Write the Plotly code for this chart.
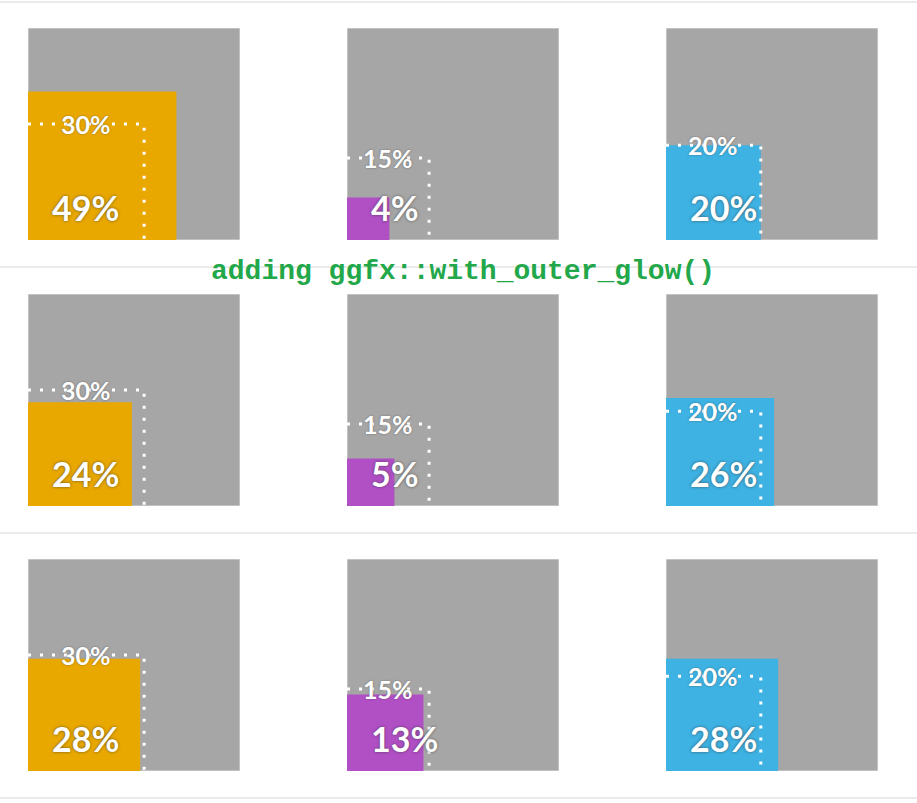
import plotly.graph_objects as go

# ---- data ----
targets = [30, 15, 20]                      # target % per column
row1_values = [49, 4, 20]
row2_values = [24, 5, 26]
row3_values = [28, 13, 28]
rows_values = [row1_values, row2_values, row3_values]
colors = ["#E9A800", "#B14FC5", "#3DB2E3"]
title_text = "adding ggfx::with_outer_glow()"

W, H = 917, 803
col_px = [(28, 240), (347, 559), (666, 878)]
row_px = [(28, 240), (294, 506), (559, 771)]
GREY = "#A6A6A6"
label_font = "Lato"

fig = go.Figure()
layout_axes = {}
annotations = []
k = 0
for r, vals in enumerate(rows_values):
    for c, v in enumerate(vals):
        k += 1
        xa = "x" if k == 1 else f"x{k}"
        ya = "y" if k == 1 else f"y{k}"
        xd = [col_px[c][0] / W, col_px[c][1] / W]
        yd = [1 - row_px[r][1] / H, 1 - row_px[r][0] / H]
        layout_axes["xaxis" if k == 1 else f"xaxis{k}"] = dict(
            domain=xd, range=[0, 1], visible=False, fixedrange=True,
            anchor=ya)
        layout_axes["yaxis" if k == 1 else f"yaxis{k}"] = dict(
            domain=yd, range=[0, 1], visible=False, fixedrange=True,
            anchor=xa)
        # background square
        fig.add_trace(go.Scatter(
            x=[0, 1, 1, 0, 0], y=[0, 0, 1, 1, 0], mode="lines",
            fill="toself", fillcolor=GREY, line=dict(color="#DDDDDD", width=1),
            xaxis=xa, yaxis=ya, hoverinfo="skip", showlegend=False))
        # value square (area proportional to value)
        s = (v / 100) ** 0.5
        fig.add_trace(go.Scatter(
            x=[0, s, s, 0, 0], y=[0, 0, s, s, 0], mode="lines",
            fill="toself", fillcolor=colors[c], line=dict(width=0, color=colors[c]),
            xaxis=xa, yaxis=ya, hoverinfo="skip", showlegend=False))
        # target dotted outline
        t = (targets[c] / 100) ** 0.5
        fig.add_trace(go.Scatter(
            x=[0, t, t], y=[t, t, 0], mode="lines",
            line=dict(color="white", width=3, dash="3px,9px"),
            xaxis=xa, yaxis=ya, hoverinfo="skip", showlegend=False))
        # target label
        annotations.append(dict(
            x=t / 2, y=t, xref=xa, yref=ya, text=f"{targets[c]}%",
            showarrow=False, xanchor="center", yanchor="middle",
            font=dict(family=label_font, size=25, color="white", weight=700,
                      shadow="0px 0px 2px rgba(60,60,60,0.6)")))
        # value label
        annotations.append(dict(
            x=22 / 212, y=33 / 212, xref=xa, yref=ya, text=f"{v}%",
            showarrow=False, xanchor="left", yanchor="middle",
            font=dict(family=label_font, size=34, color="white", weight=700,
                      shadow="0px 0px 3px rgba(50,50,50,0.7)")))

annotations.append(dict(
    x=463 / W, y=1 - 271 / H, xref="paper", yref="paper", text=title_text,
    showarrow=False, xanchor="center", yanchor="middle",
    font=dict(family="Liberation Mono", size=28, color="#22A84A", weight=700)))

shapes = []
for yp in [2, 267, 533, 798]:
    shapes.append(dict(type="line", xref="paper", yref="paper",
                       x0=0, x1=1, y0=1 - yp / H, y1=1 - yp / H,
                       line=dict(color="#EBEBEB", width=2)))

fig.update_layout(
    width=W, height=H, margin=dict(l=0, r=0, t=0, b=0),
    paper_bgcolor="white", plot_bgcolor="rgba(0,0,0,0)",
    annotations=annotations, shapes=shapes, showlegend=False,
    **layout_axes)

fig.write_html("out.html", config={"displayModeBar": False},
               post_script="document.body.style.margin='0';document.body.style.overflow='hidden';")
